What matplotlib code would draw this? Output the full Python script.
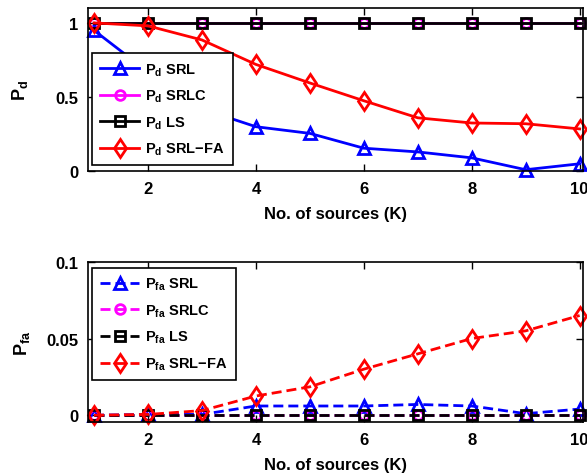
import matplotlib
matplotlib.use('Agg')
import matplotlib.pyplot as plt

plt.rcParams['font.family'] = ['Liberation Sans', 'DejaVu Sans']
plt.rcParams['font.weight'] = 'bold'
plt.rcParams['mathtext.fontset'] = 'custom'
plt.rcParams['mathtext.rm'] = 'Liberation Sans:bold'
plt.rcParams['mathtext.it'] = 'Liberation Sans:bold'
plt.rcParams['mathtext.bf'] = 'Liberation Sans:bold'
plt.rcParams['mathtext.default'] = 'rm'

# data
k = [1, 2, 3, 4, 5, 6, 7, 8, 9, 10]

pd_srl = [0.95, 0.67, 0.42, 0.30, 0.255, 0.155, 0.13, 0.09, 0.01, 0.05]
pd_srlc = [1, 1, 1, 1, 1, 1, 1, 1, 1, 1]
pd_ls = [1, 1, 1, 1, 1, 1, 1, 1, 1, 1]
pd_srlfa = [1.0, 0.98, 0.885, 0.72, 0.595, 0.475, 0.36, 0.325, 0.32, 0.285]

pfa_srl = [0.0, 0.0005, 0.0005, 0.006, 0.006, 0.006, 0.007, 0.006, 0.001, 0.004]
pfa_srlc = [0, 0, 0, 0, 0, 0, 0, 0, 0, 0]
pfa_ls = [0, 0, 0, 0, 0, 0, 0, 0, 0, 0]
pfa_srlfa = [0.0, 0.0005, 0.003, 0.0125, 0.0185, 0.030, 0.040, 0.050, 0.055, 0.065]

names = ['SRL', 'SRLC', 'LS', 'SRL\u2212FA']
colors = ['#0000ff', '#ff00ff', '#000000', '#ff0000']
markers = ['^', 'o', 's', 'd']
msizes = [8, 7, 7.5, 9.5]

fig = plt.figure(figsize=(5.87, 4.77), dpi=100)
ax1 = fig.add_axes([0.150, 0.639, 0.843, 0.342])
ax2 = fig.add_axes([0.150, 0.113, 0.843, 0.336])

top_series = [pd_srl, pd_srlc, pd_ls, pd_srlfa]
for vals, name, c, m, ms in zip(top_series, names, colors, markers, msizes):
    ax1.plot(k, vals, color=c, marker=m, markersize=ms, markerfacecolor='none',
             markeredgewidth=2, linewidth=2, label=r'$P_d$ ' + name, clip_on=False)

bot_series = [pfa_srl, pfa_srlc, pfa_ls, pfa_srlfa]
for vals, name, c, m, ms in zip(bot_series, names, colors, markers, msizes):
    ax2.plot(k, vals, color=c, marker=m, markersize=ms, markerfacecolor='none',
             markeredgewidth=2, linewidth=2, linestyle=(0, (3.6, 1.8)),
             label=r'$P_{fa}$ ' + name, clip_on=False)

for ax in (ax1, ax2):
    ax.set_xlim(0.89, 10.06)
    ax.set_xticks([2, 4, 6, 8, 10])
    ax.tick_params(direction='in', top=True, right=True, length=5, width=1,
                   labelsize=12, pad=7)
    for sp in ax.spines.values():
        sp.set_linewidth(1.2)
    ax.set_xlabel('No. of sources (K)', fontsize=12, fontweight='bold', labelpad=7)
    for lab in ax.get_xticklabels() + ax.get_yticklabels():
        lab.set_fontweight('bold')

ax1.set_ylim(0, 1.1)
ax1.set_yticks([0, 0.5, 1])
ax1.set_yticklabels(['0', '0.5', '1'])
ax1.set_ylabel(r'$P_d$', fontsize=13, fontweight='bold', labelpad=18)

ax2.set_ylim(-0.0045, 0.1)
ax2.set_yticks([0, 0.05, 0.1])
ax2.set_yticklabels(['0', '0.05', '0.1'])
ax2.set_ylabel(r'$P_{fa}$', fontsize=13, fontweight='bold', labelpad=10)

leg_kw = dict(fontsize=10.5, numpoints=1, handlelength=2.7, fancybox=False,
              edgecolor='black', framealpha=1, borderpad=0.55, labelspacing=0.7,
              handletextpad=0.4, borderaxespad=0)
l1 = ax1.legend(loc='upper left', bbox_to_anchor=(0.008, 0.724), **leg_kw)
l1.get_frame().set_linewidth(1.2)
l2 = ax2.legend(loc='upper left', bbox_to_anchor=(0.008, 0.9625), **leg_kw)
l2.get_frame().set_linewidth(1.2)

fig.savefig('out.png', dpi=100)
